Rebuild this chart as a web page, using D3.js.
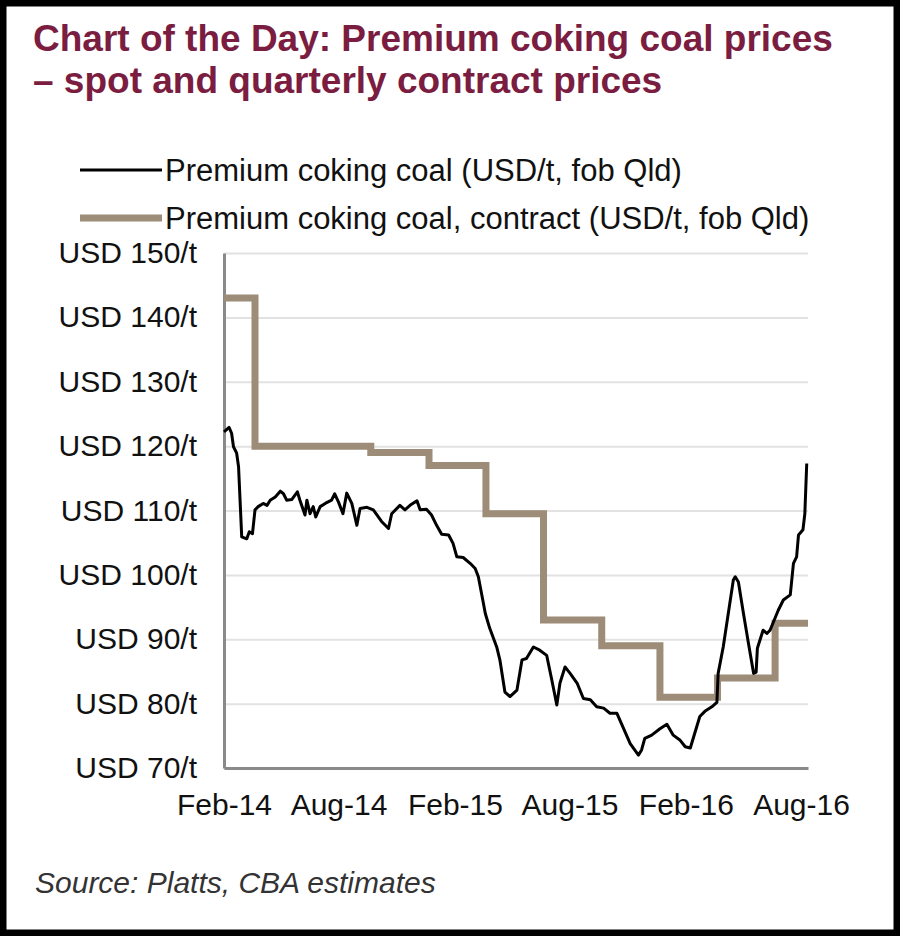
<!DOCTYPE html>
<html>
<head>
<meta charset="utf-8">
<script src="https://cdn.jsdelivr.net/npm/d3@7"></script>
<style>
  body { margin: 0; background: #fff; }
  svg { display: block; font-family: "Liberation Sans", Arial, sans-serif; }
</style>
</head>
<body>
<svg id="chart"></svg>
<script>
// Spot price, premium coking coal (USD/t, fob Qld)
const spotDates = [
  "2014-02-11", "2014-02-19", "2014-02-23", "2014-02-26", "2014-03-03", "2014-03-06",
  "2014-03-11", "2014-03-19", "2014-03-23", "2014-03-28", "2014-04-01", "2014-04-06",
  "2014-04-14", "2014-04-20", "2014-04-25", "2014-05-03", "2014-05-11", "2014-05-16",
  "2014-05-21", "2014-05-29", "2014-06-07", "2014-06-11", "2014-06-19", "2014-06-22",
  "2014-06-27", "2014-07-02", "2014-07-06", "2014-07-13", "2014-07-21", "2014-07-31",
  "2014-08-05", "2014-08-11", "2014-08-18", "2014-08-24", "2014-09-01", "2014-09-09",
  "2014-09-14", "2014-09-25", "2014-10-05", "2014-10-18", "2014-10-29", "2014-11-03",
  "2014-11-16", "2014-11-24", "2014-12-02", "2014-12-13", "2014-12-18", "2014-12-28",
  "2015-01-05", "2015-01-13", "2015-01-21", "2015-02-01", "2015-02-08", "2015-02-14",
  "2015-02-24", "2015-03-07", "2015-03-15", "2015-03-20", "2015-03-27", "2015-03-31",
  "2015-04-07", "2015-04-18", "2015-04-23", "2015-05-01", "2015-05-09", "2015-05-20",
  "2015-05-28", "2015-06-04", "2015-06-15", "2015-06-25", "2015-07-06", "2015-07-14",
  "2015-07-22", "2015-07-27", "2015-08-04", "2015-08-12", "2015-08-23", "2015-09-02",
  "2015-09-13", "2015-09-23", "2015-10-04", "2015-10-14", "2015-10-25", "2015-11-02",
  "2015-11-15", "2015-11-28", "2015-12-03", "2015-12-08", "2015-12-19", "2016-01-01",
  "2016-01-12", "2016-01-22", "2016-02-02", "2016-02-10", "2016-02-18", "2016-02-25",
  "2016-03-04", "2016-03-12", "2016-03-23", "2016-03-31", "2016-04-02", "2016-04-10",
  "2016-04-18", "2016-04-26", "2016-04-29", "2016-05-04", "2016-05-12", "2016-05-20",
  "2016-05-28", "2016-06-01", "2016-06-03", "2016-06-12", "2016-06-18", "2016-06-23",
  "2016-07-06", "2016-07-14", "2016-07-25", "2016-07-30", "2016-08-04", "2016-08-07",
  "2016-08-14", "2016-08-17", "2016-08-20"
];
const spotValues = [
  122.2, 122.9, 122.0, 119.9, 118.9, 116.8,
  105.9, 105.6, 106.7, 106.4, 110.1, 110.6,
  111.1, 110.8, 111.6, 112.1, 113.0, 112.6,
  111.6, 111.7, 112.9, 111.6, 109.3, 111.6,
  109.5, 110.6, 109.0, 110.6, 111.1, 111.6,
  112.6, 111.3, 109.5, 112.7, 111.1, 107.7,
  110.3, 110.5, 110.1, 108.3, 107.2, 109.5,
  110.8, 110.1, 110.8, 111.5, 110.1, 110.2,
  109.3, 107.7, 106.3, 106.2, 104.9, 102.8,
  102.7, 101.8, 101.0, 99.7, 96.1, 94.0,
  91.7, 88.8, 86.8, 81.8, 81.1, 82.1,
  86.8, 87.0, 88.8, 88.3, 87.5, 83.7,
  79.8, 83.2, 85.7, 84.7, 83.2, 80.8,
  80.6, 79.5, 79.3, 78.5, 78.5, 76.7,
  73.8, 72.0, 72.8, 74.6, 75.1, 76.1,
  76.8, 75.1, 74.3, 73.3, 73.1, 75.4,
  78.0, 78.8, 79.5, 80.2, 84.7, 88.8,
  94.0, 99.2, 99.7, 98.9, 94.0, 89.3,
  84.7, 84.9, 88.6, 91.4, 90.9, 91.4,
  94.5, 96.1, 96.9, 101.8, 102.8, 106.2,
  107.0, 109.5, 117.3
];

// Quarterly contract price, each value holds from its quarter start
const contractDates = [
  "2014-01-01", "2014-04-01", "2014-07-01", "2014-10-01", "2015-01-01", "2015-04-01",
  "2015-07-01", "2015-10-01", "2016-01-01", "2016-04-01", "2016-07-01"
];
const contractValues = [143, 120, 120, 119, 117, 109.5, 93, 89, 81, 84, 92.5];

// Axes
const xStart = "2014-02-11";
const xEnd = "2016-08-22";
const xTickDates = ["2014-02-11", "2014-08-11", "2015-02-11", "2015-08-11", "2016-02-11", "2016-08-11"];
const xTickLabels = ["Feb-14", "Aug-14", "Feb-15", "Aug-15", "Feb-16", "Aug-16"];
const yTicks = [70, 80, 90, 100, 110, 120, 130, 140, 150];

const seriesNames = [
  "Premium coking coal (USD/t, fob Qld)",
  "Premium coking coal, contract (USD/t, fob Qld)"
];
const titleLines = [
  "Chart of the Day: Premium coking coal prices",
  "\u2013 spot and quarterly contract prices"
];
const sourceText = "Source: Platts, CBA estimates";

const width = 900, height = 936;
const margin = { top: 253, right: 92, bottom: 168, left: 224 };
const innerW = width - margin.left - margin.right;
const innerH = height - margin.top - margin.bottom;

const parse = d3.timeParse("%Y-%m-%d");
const spot = spotDates.map((d, i) => ({ date: parse(d), value: spotValues[i] }));
const contract = contractDates.map((d, i) => ({ date: parse(d), value: contractValues[i] }));
contract.push({ date: parse(xEnd), value: contractValues[contractValues.length - 1] });

const svg = d3.select("#chart").attr("width", width).attr("height", height);

const maroon = "#7a1d40";
const tan = "#9c8c78";

// Title
svg.append("g")
  .selectAll("text")
  .data(titleLines)
  .join("text")
  .attr("x", 33)
  .attr("y", (d, i) => 51 + i * 42)
  .attr("fill", maroon)
  .attr("font-size", 37)
  .attr("font-weight", "bold")
  .text(d => d);

// Legend
const legend = svg.append("g");
const legendRows = [
  { name: seriesNames[0], color: "#000", w: 3, y: 170 },
  { name: seriesNames[1], color: tan, w: 7, y: 218 }
];
legendRows.forEach(r => {
  legend.append("line")
    .attr("x1", 80).attr("x2", 162)
    .attr("y1", r.y).attr("y2", r.y)
    .attr("stroke", r.color).attr("stroke-width", r.w);
  legend.append("text")
    .attr("x", 165).attr("y", r.y + 11)
    .attr("font-size", 31)
    .attr("fill", "#111")
    .text(r.name);
});

const chart = svg.append("g")
  .attr("transform", `translate(${margin.left},${margin.top})`);

const x = d3.scaleTime()
  .domain([parse(xStart), parse(xEnd)])
  .range([0, innerW])
  .clamp(true);
const y = d3.scaleLinear().domain([70, 150]).range([innerH, 0]);

// Gridlines
chart.append("g")
  .attr("class", "grid")
  .call(d3.axisLeft(y).tickValues(yTicks).tickSize(-innerW).tickFormat(""))
  .call(g => g.select(".domain").remove())
  .call(g => g.selectAll("line").attr("stroke", "#e2e2e2").attr("stroke-width", 2));

// Y axis
chart.append("g")
  .call(d3.axisLeft(y).tickValues(yTicks).tickSize(0).tickPadding(27)
    .tickFormat(d => `USD ${d}/t`))
  .call(g => g.select(".domain").attr("stroke", "#8a8a8a").attr("stroke-width", 3))
  .call(g => g.selectAll("text")
    .attr("font-size", 30)
    .attr("font-family", "Liberation Sans, Arial, sans-serif")
    .attr("fill", "#111"));

// X axis
chart.append("g")
  .attr("transform", `translate(0,${innerH})`)
  .call(d3.axisBottom(x).tickValues(xTickDates.map(parse)).tickSize(0).tickPadding(26)
    .tickFormat((d, i) => xTickLabels[i]))
  .call(g => g.select(".domain").attr("stroke", "#8a8a8a").attr("stroke-width", 3))
  .call(g => g.selectAll("text")
    .attr("font-size", 30)
    .attr("font-family", "Liberation Sans, Arial, sans-serif")
    .attr("fill", "#111"));

// Contract (step) line
chart.append("path")
  .datum(contract)
  .attr("fill", "none")
  .attr("stroke", tan)
  .attr("stroke-width", 7)
  .attr("d", d3.line().curve(d3.curveStepAfter)
    .x(d => x(d.date)).y(d => y(d.value)));

// Spot line
chart.append("path")
  .datum(spot)
  .attr("fill", "none")
  .attr("stroke", "#000")
  .attr("stroke-width", 3)
  .attr("stroke-linejoin", "round")
  .attr("d", d3.line().x(d => x(d.date)).y(d => y(d.value)));

// Source note
svg.append("text")
  .attr("x", 35).attr("y", 893)
  .attr("font-size", 30)
  .attr("font-style", "italic")
  .attr("fill", "#333")
  .text(sourceText);

// Outer frame
svg.append("rect")
  .attr("x", 3).attr("y", 3)
  .attr("width", width - 6).attr("height", height - 6)
  .attr("fill", "none")
  .attr("stroke", "#000")
  .attr("stroke-width", 7);
</script>
</body>
</html>
